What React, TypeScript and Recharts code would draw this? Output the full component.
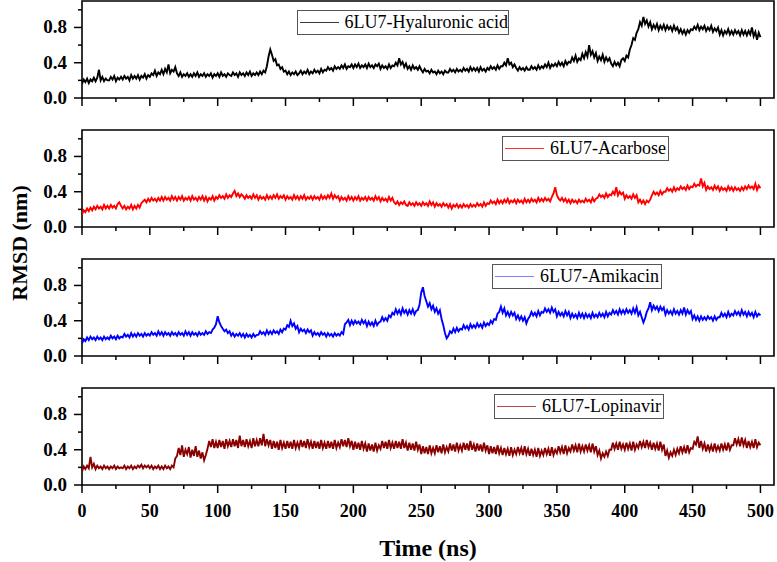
import React from 'react';
import { LineChart, Line, XAxis, YAxis, ReferenceArea, Legend } from 'recharts';

// Sampling interval of the traces (ns); each row below covers 10 ns
const timeStepNs = 1.25;

// RMSD (nm), every 1.25 ns, 0..500 ns
const hyaluronicAcid = [
  0.16, 0.21, 0.18, 0.22, 0.17, 0.21, 0.19, 0.23,
  0.19, 0.23, 0.32, 0.20, 0.24, 0.19, 0.22, 0.20,
  0.20, 0.24, 0.21, 0.25, 0.19, 0.23, 0.21, 0.24,
  0.21, 0.25, 0.22, 0.24, 0.20, 0.26, 0.22, 0.25,
  0.22, 0.26, 0.21, 0.25, 0.23, 0.27, 0.22, 0.26,
  0.24, 0.28, 0.26, 0.31, 0.25, 0.29, 0.27, 0.32,
  0.27, 0.33, 0.29, 0.38, 0.28, 0.32, 0.30, 0.35,
  0.28, 0.25, 0.29, 0.24, 0.27, 0.25, 0.28, 0.24,
  0.27, 0.24, 0.28, 0.25, 0.29, 0.24, 0.27, 0.25,
  0.28, 0.24, 0.27, 0.25, 0.28, 0.23, 0.27, 0.25,
  0.28, 0.24, 0.29, 0.25, 0.27, 0.24, 0.28, 0.26,
  0.25, 0.29, 0.26, 0.28, 0.24, 0.29, 0.26, 0.28,
  0.25, 0.29, 0.26, 0.30, 0.25, 0.28, 0.26, 0.29,
  0.26, 0.30, 0.27, 0.31, 0.29, 0.36, 0.47, 0.55,
  0.49, 0.42, 0.44, 0.37, 0.38, 0.33, 0.35, 0.30,
  0.31, 0.27, 0.30, 0.26, 0.29, 0.27, 0.30, 0.26,
  0.28, 0.31, 0.27, 0.30, 0.28, 0.32, 0.27, 0.30,
  0.28, 0.32, 0.29, 0.31, 0.28, 0.33, 0.29, 0.32,
  0.31, 0.35, 0.32, 0.34, 0.31, 0.36, 0.33, 0.35,
  0.33, 0.37, 0.34, 0.38, 0.33, 0.36, 0.35, 0.38,
  0.34, 0.38, 0.35, 0.39, 0.34, 0.37, 0.35, 0.38,
  0.34, 0.39, 0.35, 0.37, 0.34, 0.38, 0.36, 0.39,
  0.33, 0.37, 0.34, 0.36, 0.33, 0.38, 0.34, 0.37,
  0.36, 0.40, 0.37, 0.45, 0.38, 0.41, 0.35, 0.39,
  0.33, 0.36, 0.32, 0.37, 0.33, 0.35, 0.32, 0.36,
  0.32, 0.29, 0.33, 0.30, 0.31, 0.28, 0.32, 0.29,
  0.30, 0.27, 0.31, 0.28, 0.30, 0.27, 0.31, 0.29,
  0.29, 0.33, 0.30, 0.32, 0.29, 0.33, 0.30, 0.32,
  0.30, 0.34, 0.31, 0.33, 0.30, 0.35, 0.31, 0.34,
  0.31, 0.34, 0.30, 0.35, 0.31, 0.33, 0.30, 0.34,
  0.32, 0.36, 0.33, 0.35, 0.32, 0.37, 0.33, 0.36,
  0.36, 0.40, 0.37, 0.45, 0.38, 0.40, 0.35, 0.38,
  0.34, 0.31, 0.35, 0.32, 0.34, 0.31, 0.35, 0.32,
  0.32, 0.36, 0.33, 0.35, 0.32, 0.37, 0.33, 0.36,
  0.34, 0.38, 0.35, 0.40, 0.34, 0.38, 0.36, 0.39,
  0.36, 0.41, 0.37, 0.40, 0.36, 0.42, 0.38, 0.41,
  0.40, 0.46, 0.42, 0.48, 0.41, 0.45, 0.43, 0.50,
  0.45, 0.52, 0.47, 0.60, 0.49, 0.53, 0.46, 0.51,
  0.42, 0.47, 0.43, 0.49, 0.41, 0.46, 0.42, 0.45,
  0.39, 0.36, 0.41, 0.37, 0.40, 0.36, 0.43, 0.45,
  0.42, 0.48, 0.46, 0.55, 0.60, 0.68, 0.66, 0.74,
  0.78, 0.86, 0.82, 0.92, 0.84, 0.88, 0.81, 0.86,
  0.78, 0.83, 0.79, 0.84, 0.77, 0.82, 0.78, 0.83,
  0.77, 0.82, 0.78, 0.81, 0.76, 0.82, 0.77, 0.80,
  0.74, 0.78, 0.73, 0.77, 0.72, 0.77, 0.74, 0.78,
  0.77, 0.81, 0.78, 0.83, 0.77, 0.81, 0.78, 0.82,
  0.76, 0.80, 0.77, 0.82, 0.75, 0.79, 0.76, 0.80,
  0.72, 0.77, 0.71, 0.76, 0.73, 0.78, 0.72, 0.76,
  0.72, 0.77, 0.73, 0.76, 0.71, 0.77, 0.72, 0.76,
  0.71, 0.76, 0.72, 0.80, 0.70, 0.75, 0.66, 0.74,
  0.69,
];

const acarbose = [
  0.14, 0.19, 0.17, 0.21, 0.18, 0.22, 0.19, 0.23,
  0.20, 0.24, 0.21, 0.23, 0.20, 0.25, 0.21, 0.24,
  0.21, 0.25, 0.22, 0.24, 0.21, 0.26, 0.28, 0.24,
  0.21, 0.24, 0.20, 0.23, 0.21, 0.25, 0.20, 0.24,
  0.21, 0.25, 0.22, 0.27, 0.29, 0.31, 0.28, 0.32,
  0.29, 0.33, 0.30, 0.32, 0.29, 0.33, 0.30, 0.34,
  0.30, 0.34, 0.31, 0.33, 0.30, 0.35, 0.31, 0.34,
  0.30, 0.34, 0.31, 0.35, 0.30, 0.33, 0.31, 0.34,
  0.30, 0.35, 0.31, 0.33, 0.30, 0.34, 0.31, 0.35,
  0.30, 0.34, 0.29, 0.33, 0.31, 0.35, 0.30, 0.34,
  0.32, 0.36, 0.33, 0.35, 0.32, 0.37, 0.33, 0.36,
  0.34, 0.38, 0.41, 0.35, 0.38, 0.34, 0.37, 0.35,
  0.32, 0.36, 0.33, 0.35, 0.32, 0.37, 0.33, 0.36,
  0.31, 0.35, 0.32, 0.34, 0.31, 0.36, 0.32, 0.35,
  0.32, 0.36, 0.33, 0.37, 0.32, 0.35, 0.33, 0.36,
  0.31, 0.35, 0.32, 0.34, 0.31, 0.36, 0.32, 0.35,
  0.31, 0.35, 0.32, 0.36, 0.31, 0.34, 0.32, 0.35,
  0.31, 0.35, 0.32, 0.34, 0.31, 0.36, 0.32, 0.35,
  0.32, 0.36, 0.33, 0.38, 0.32, 0.36, 0.33, 0.35,
  0.30, 0.34, 0.31, 0.33, 0.30, 0.35, 0.31, 0.34,
  0.30, 0.34, 0.31, 0.35, 0.30, 0.33, 0.31, 0.34,
  0.30, 0.34, 0.31, 0.33, 0.30, 0.35, 0.31, 0.34,
  0.29, 0.33, 0.30, 0.32, 0.29, 0.34, 0.30, 0.33,
  0.28, 0.26, 0.29, 0.25, 0.28, 0.26, 0.29, 0.25,
  0.24, 0.28, 0.25, 0.27, 0.24, 0.28, 0.25, 0.27,
  0.24, 0.28, 0.25, 0.27, 0.24, 0.29, 0.25, 0.28,
  0.23, 0.27, 0.24, 0.26, 0.23, 0.27, 0.24, 0.26,
  0.22, 0.26, 0.21, 0.25, 0.23, 0.26, 0.22, 0.25,
  0.22, 0.26, 0.23, 0.25, 0.22, 0.26, 0.23, 0.25,
  0.23, 0.27, 0.24, 0.26, 0.23, 0.28, 0.24, 0.27,
  0.26, 0.30, 0.27, 0.29, 0.26, 0.31, 0.27, 0.30,
  0.27, 0.31, 0.28, 0.32, 0.27, 0.30, 0.28, 0.31,
  0.27, 0.31, 0.28, 0.30, 0.27, 0.32, 0.28, 0.31,
  0.28, 0.32, 0.29, 0.31, 0.28, 0.33, 0.29, 0.32,
  0.29, 0.33, 0.30, 0.32, 0.29, 0.34, 0.38, 0.45,
  0.36, 0.32, 0.30, 0.33, 0.29, 0.32, 0.28, 0.31,
  0.27, 0.31, 0.28, 0.30, 0.27, 0.31, 0.28, 0.30,
  0.28, 0.32, 0.29, 0.31, 0.28, 0.33, 0.29, 0.32,
  0.33, 0.37, 0.34, 0.36, 0.33, 0.38, 0.34, 0.37,
  0.36, 0.40, 0.37, 0.45, 0.36, 0.40, 0.37, 0.39,
  0.32, 0.36, 0.33, 0.35, 0.32, 0.37, 0.33, 0.36,
  0.28, 0.31, 0.27, 0.30, 0.26, 0.30, 0.28, 0.31,
  0.36, 0.40, 0.37, 0.39, 0.36, 0.41, 0.37, 0.40,
  0.40, 0.44, 0.41, 0.43, 0.40, 0.45, 0.41, 0.44,
  0.42, 0.46, 0.43, 0.45, 0.42, 0.47, 0.43, 0.46,
  0.45, 0.49, 0.46, 0.48, 0.47, 0.55, 0.46, 0.50,
  0.42, 0.46, 0.43, 0.45, 0.42, 0.47, 0.43, 0.46,
  0.41, 0.45, 0.42, 0.44, 0.41, 0.46, 0.42, 0.45,
  0.41, 0.45, 0.42, 0.44, 0.41, 0.45, 0.42, 0.46,
  0.43, 0.47, 0.44, 0.46, 0.43, 0.49, 0.42, 0.47,
  0.44,
];

const amikacin = [
  0.14, 0.19, 0.17, 0.21, 0.18, 0.22, 0.19, 0.21,
  0.18, 0.22, 0.19, 0.21, 0.18, 0.22, 0.19, 0.21,
  0.19, 0.23, 0.20, 0.22, 0.19, 0.23, 0.20, 0.22,
  0.21, 0.25, 0.22, 0.24, 0.21, 0.26, 0.22, 0.25,
  0.22, 0.26, 0.23, 0.25, 0.22, 0.26, 0.23, 0.25,
  0.23, 0.27, 0.24, 0.26, 0.23, 0.28, 0.24, 0.27,
  0.23, 0.27, 0.24, 0.26, 0.23, 0.27, 0.24, 0.26,
  0.23, 0.27, 0.24, 0.26, 0.23, 0.28, 0.24, 0.27,
  0.23, 0.27, 0.24, 0.26, 0.23, 0.27, 0.24, 0.26,
  0.24, 0.28, 0.25, 0.27, 0.26, 0.30, 0.32, 0.36,
  0.45, 0.38, 0.34, 0.31, 0.28, 0.30, 0.26, 0.28,
  0.23, 0.26, 0.22, 0.25, 0.23, 0.26, 0.22, 0.25,
  0.21, 0.25, 0.22, 0.24, 0.21, 0.25, 0.22, 0.24,
  0.24, 0.28, 0.25, 0.27, 0.24, 0.29, 0.25, 0.28,
  0.25, 0.29, 0.26, 0.28, 0.25, 0.30, 0.27, 0.31,
  0.30, 0.35, 0.33, 0.40, 0.34, 0.37, 0.31, 0.34,
  0.27, 0.31, 0.28, 0.30, 0.26, 0.30, 0.27, 0.29,
  0.23, 0.27, 0.24, 0.26, 0.23, 0.27, 0.24, 0.26,
  0.22, 0.26, 0.23, 0.25, 0.22, 0.26, 0.23, 0.25,
  0.23, 0.27, 0.25, 0.36, 0.38, 0.41, 0.35, 0.40,
  0.36, 0.40, 0.37, 0.39, 0.36, 0.41, 0.37, 0.40,
  0.34, 0.39, 0.35, 0.38, 0.34, 0.40, 0.35, 0.38,
  0.39, 0.44, 0.40, 0.43, 0.40, 0.46, 0.44, 0.49,
  0.47, 0.53, 0.48, 0.52, 0.47, 0.54, 0.49, 0.52,
  0.47, 0.52, 0.48, 0.53, 0.47, 0.51, 0.52, 0.58,
  0.72, 0.78, 0.68, 0.62, 0.56, 0.60, 0.53, 0.57,
  0.50, 0.54, 0.48, 0.52, 0.42, 0.35, 0.26, 0.20,
  0.23, 0.28, 0.26, 0.31, 0.27, 0.32, 0.28, 0.31,
  0.30, 0.35, 0.31, 0.34, 0.30, 0.36, 0.32, 0.35,
  0.32, 0.37, 0.33, 0.36, 0.32, 0.38, 0.34, 0.37,
  0.35, 0.40, 0.37, 0.42, 0.41, 0.48, 0.50, 0.56,
  0.49, 0.54, 0.46, 0.50, 0.45, 0.50, 0.46, 0.49,
  0.42, 0.46, 0.41, 0.45, 0.40, 0.44, 0.37, 0.42,
  0.45, 0.50, 0.46, 0.49, 0.45, 0.51, 0.46, 0.50,
  0.49, 0.54, 0.50, 0.53, 0.49, 0.55, 0.50, 0.53,
  0.45, 0.50, 0.46, 0.49, 0.45, 0.51, 0.46, 0.50,
  0.43, 0.48, 0.44, 0.47, 0.43, 0.49, 0.44, 0.48,
  0.43, 0.48, 0.44, 0.47, 0.43, 0.49, 0.44, 0.47,
  0.44, 0.49, 0.45, 0.48, 0.44, 0.50, 0.45, 0.49,
  0.47, 0.52, 0.48, 0.51, 0.47, 0.53, 0.48, 0.52,
  0.48, 0.53, 0.49, 0.52, 0.48, 0.54, 0.49, 0.55,
  0.46, 0.50, 0.44, 0.38, 0.43, 0.50, 0.54, 0.61,
  0.52, 0.57, 0.53, 0.56, 0.51, 0.56, 0.52, 0.55,
  0.47, 0.52, 0.48, 0.51, 0.47, 0.53, 0.48, 0.51,
  0.47, 0.52, 0.48, 0.55, 0.47, 0.52, 0.48, 0.51,
  0.42, 0.46, 0.41, 0.45, 0.40, 0.45, 0.41, 0.44,
  0.41, 0.45, 0.42, 0.44, 0.40, 0.45, 0.41, 0.44,
  0.44, 0.49, 0.45, 0.48, 0.44, 0.50, 0.45, 0.48,
  0.46, 0.51, 0.47, 0.50, 0.46, 0.52, 0.47, 0.50,
  0.45, 0.50, 0.46, 0.49, 0.44, 0.50, 0.45, 0.48,
  0.46,
];

const lopinavir = [
  0.15, 0.21, 0.18, 0.22, 0.19, 0.32, 0.20, 0.24,
  0.18, 0.22, 0.19, 0.21, 0.18, 0.22, 0.19, 0.21,
  0.18, 0.21, 0.19, 0.22, 0.18, 0.21, 0.19, 0.20,
  0.19, 0.22, 0.18, 0.21, 0.19, 0.22, 0.18, 0.21,
  0.19, 0.22, 0.20, 0.23, 0.19, 0.22, 0.20, 0.22,
  0.19, 0.22, 0.18, 0.21, 0.19, 0.22, 0.18, 0.21,
  0.18, 0.22, 0.19, 0.21, 0.18, 0.22, 0.20, 0.30,
  0.33, 0.42, 0.34, 0.45, 0.32, 0.40, 0.35, 0.43,
  0.31, 0.40, 0.33, 0.44, 0.32, 0.39, 0.30, 0.37,
  0.28, 0.34, 0.41, 0.50, 0.43, 0.52, 0.42, 0.49,
  0.42, 0.51, 0.43, 0.50, 0.41, 0.52, 0.44, 0.50,
  0.43, 0.52, 0.44, 0.51, 0.42, 0.56, 0.44, 0.51,
  0.43, 0.52, 0.44, 0.50, 0.42, 0.53, 0.44, 0.51,
  0.44, 0.53, 0.45, 0.58, 0.44, 0.52, 0.45, 0.51,
  0.41, 0.50, 0.42, 0.49, 0.40, 0.51, 0.42, 0.48,
  0.41, 0.50, 0.42, 0.49, 0.41, 0.51, 0.42, 0.48,
  0.42, 0.51, 0.43, 0.50, 0.42, 0.52, 0.43, 0.49,
  0.41, 0.50, 0.42, 0.49, 0.41, 0.51, 0.42, 0.48,
  0.41, 0.50, 0.42, 0.49, 0.41, 0.51, 0.42, 0.48,
  0.43, 0.52, 0.44, 0.51, 0.43, 0.53, 0.44, 0.50,
  0.40, 0.49, 0.41, 0.48, 0.40, 0.50, 0.41, 0.47,
  0.38, 0.47, 0.39, 0.46, 0.38, 0.48, 0.39, 0.45,
  0.41, 0.50, 0.42, 0.49, 0.41, 0.51, 0.42, 0.48,
  0.41, 0.50, 0.42, 0.49, 0.41, 0.52, 0.42, 0.48,
  0.39, 0.48, 0.40, 0.47, 0.39, 0.49, 0.40, 0.46,
  0.35, 0.44, 0.36, 0.43, 0.35, 0.45, 0.36, 0.42,
  0.36, 0.45, 0.37, 0.44, 0.36, 0.46, 0.37, 0.43,
  0.38, 0.47, 0.39, 0.46, 0.38, 0.48, 0.39, 0.45,
  0.39, 0.48, 0.40, 0.47, 0.39, 0.50, 0.40, 0.46,
  0.38, 0.47, 0.39, 0.46, 0.38, 0.48, 0.39, 0.45,
  0.35, 0.44, 0.36, 0.43, 0.35, 0.45, 0.36, 0.42,
  0.34, 0.42, 0.35, 0.41, 0.33, 0.43, 0.34, 0.40,
  0.35, 0.43, 0.36, 0.42, 0.34, 0.44, 0.35, 0.41,
  0.33, 0.41, 0.34, 0.40, 0.32, 0.42, 0.33, 0.39,
  0.34, 0.42, 0.35, 0.41, 0.33, 0.43, 0.34, 0.40,
  0.36, 0.44, 0.37, 0.43, 0.35, 0.45, 0.36, 0.42,
  0.38, 0.46, 0.39, 0.45, 0.37, 0.47, 0.38, 0.44,
  0.38, 0.46, 0.39, 0.45, 0.37, 0.47, 0.38, 0.44,
  0.34, 0.39, 0.30, 0.36, 0.32, 0.38, 0.33, 0.40,
  0.40, 0.48, 0.41, 0.47, 0.40, 0.49, 0.41, 0.46,
  0.40, 0.48, 0.41, 0.47, 0.39, 0.49, 0.40, 0.46,
  0.42, 0.50, 0.43, 0.49, 0.42, 0.51, 0.43, 0.48,
  0.40, 0.48, 0.41, 0.47, 0.39, 0.49, 0.40, 0.46,
  0.33, 0.39, 0.31, 0.37, 0.33, 0.40, 0.34, 0.41,
  0.36, 0.44, 0.37, 0.43, 0.36, 0.45, 0.37, 0.42,
  0.41, 0.49, 0.46, 0.55, 0.42, 0.50, 0.41, 0.47,
  0.38, 0.46, 0.39, 0.45, 0.38, 0.47, 0.39, 0.44,
  0.39, 0.47, 0.40, 0.46, 0.39, 0.48, 0.40, 0.45,
  0.45, 0.53, 0.46, 0.52, 0.44, 0.54, 0.45, 0.51,
  0.42, 0.50, 0.43, 0.49, 0.42, 0.52, 0.43, 0.48,
  0.45,
];

const seriesNames = ['6LU7-Hyaluronic acid', '6LU7-Acarbose', '6LU7-Amikacin', '6LU7-Lopinavir'];
const seriesColors = ['#000000', '#ff0000', '#0000ff', '#8b0000'];
const legendSampleColors = ['#3a3a3a', '#ff3030', '#7f7fff', '#b24a4a'];

const xTicks = [0, 25, 50, 75, 100, 125, 150, 175, 200, 225, 250, 275, 300, 325, 350, 375, 400, 425, 450, 475, 500];
const xLabelTicks = [0, 50, 100, 150, 200, 250, 300, 350, 400, 450, 500];
const yTicks = [0, 0.2, 0.4, 0.6, 0.8, 1.0];
const yLabelTicks = [0, 0.4, 0.8];

const xTitle = 'Time (ns)';
const yTitle = 'RMSD (nm)';

const FONT = "'Liberation Serif', 'Times New Roman', serif";
const X_DOMAIN: [number, number] = [0, 510];
const Y_DOMAIN: [number, number] = [0, 1.1];

function XTick(props: any) {
  const { x, y, payload, showLabels } = props;
  const v = payload.value;
  const major = xLabelTicks.includes(v);
  return (
    <g>
      <line x1={x} x2={x} y1={y} y2={y + (major ? 8 : 4)} stroke="#000" strokeWidth={1.5} />
      {showLabels && major ? (
        <text x={x} y={y + 32} textAnchor="middle" fontFamily={FONT} fontWeight="bold" fontSize={18} fill="#000">
          {v}
        </text>
      ) : null}
    </g>
  );
}

function YTick(props: any) {
  const { x, y, payload } = props;
  const v = payload.value;
  const major = yLabelTicks.some((t) => Math.abs(t - v) < 1e-9);
  return (
    <g>
      <line x1={x - (major ? 8 : 4)} x2={x} y1={y} y2={y} stroke="#000" strokeWidth={1.5} />
      {major ? (
        <text x={x - 15} y={y + 6} textAnchor="end" fontFamily={FONT} fontWeight="bold" fontSize={19} fill="#000">
          {v.toFixed(1)}
        </text>
      ) : null}
    </g>
  );
}

function LegendBox({ name, sampleColor, width, height }: any) {
  return (
    <div
      style={{
        boxSizing: 'border-box',
        width,
        height,
        border: '1px solid #555',
        background: '#fff',
        display: 'flex',
        alignItems: 'center',
        paddingLeft: 2,
        whiteSpace: 'nowrap',
        fontFamily: FONT,
        fontSize: 18,
        color: '#000',
      }}
    >
      <div style={{ width: 39, height: 0, borderTop: `1px solid ${sampleColor}`, marginRight: 6 }} />
      <span>{name}</span>
    </div>
  );
}

type PanelProps = {
  index: number;
  values: number[];
  top: number;
  height: number;
  axisHeight: number;
  showXLabels: boolean;
  legendLeft: number;
  legendTop: number;
  legendWidth: number;
  legendHeight: number;
};

function Panel(p: PanelProps) {
  const data = p.values.map((v, i) => ({ t: i * timeStepNs, v }));
  return (
    <div style={{ position: 'absolute', left: 0, top: p.top, width: 777, height: p.height }}>
      <LineChart width={777} height={p.height} data={data} margin={{ top: 1, right: 3, bottom: 0, left: 0 }}>
        <XAxis
          dataKey="t"
          type="number"
          domain={X_DOMAIN}
          ticks={xTicks}
          interval={0}
          allowDataOverflow
          axisLine={false}
          tickLine={false}
          tickSize={0}
          tickMargin={0}
          height={p.axisHeight}
          tick={(tp: any) => <XTick {...tp} showLabels={p.showXLabels} />}
          label={
            p.showXLabels
              ? (lp: any) => {
                  const vb = lp.viewBox || {};
                  return (
                    <text
                      x={vb.x + vb.width / 2}
                      y={vb.y + 71}
                      textAnchor="middle"
                      fontFamily={FONT}
                      fontWeight="bold"
                      fontSize={24}
                      fill="#000"
                    >
                      {xTitle}
                    </text>
                  );
                }
              : undefined
          }
        />
        <YAxis
          type="number"
          domain={Y_DOMAIN}
          ticks={yTicks}
          interval={0}
          allowDataOverflow
          axisLine={false}
          tickLine={false}
          tickSize={0}
          tickMargin={0}
          width={82}
          tick={(tp: any) => <YTick {...tp} />}
        />
        <ReferenceArea
          x1={X_DOMAIN[0]}
          x2={X_DOMAIN[1]}
          y1={Y_DOMAIN[0]}
          y2={Y_DOMAIN[1]}
          fill="none"
          stroke="#000"
          strokeWidth={1.6}
          ifOverflow="visible"
        />
        <Line
          dataKey="v"
          name={seriesNames[p.index]}
          stroke={seriesColors[p.index]}
          strokeWidth={1.9}
          dot={false}
          isAnimationActive={false}
        />
        <Legend
          verticalAlign="middle"
          align="center"
          wrapperStyle={{ left: p.legendLeft, top: p.legendTop, width: p.legendWidth, height: p.legendHeight }}
          content={() => (
            <LegendBox
              name={seriesNames[p.index]}
              sampleColor={legendSampleColors[p.index]}
              width={p.legendWidth}
              height={p.legendHeight}
            />
          )}
        />
      </LineChart>
    </div>
  );
}

export default function App() {
  return (
    <div style={{ position: 'absolute', left: 0, top: 0, width: 777, height: 562, background: '#fff', overflow: 'hidden' }}>
      <Panel index={0} values={hyaluronicAcid} top={0} height={129} axisHeight={31} showXLabels={false}
        legendLeft={297} legendTop={10} legendWidth={212} legendHeight={25} />
      <Panel index={1} values={acarbose} top={129} height={129} axisHeight={31} showXLabels={false}
        legendLeft={502} legendTop={7} legendWidth={167} legendHeight={25} />
      <Panel index={2} values={amikacin} top={258} height={129} axisHeight={31} showXLabels={false}
        legendLeft={492} legendTop={6} legendWidth={170} legendHeight={25} />
      <Panel index={3} values={lopinavir} top={387} height={175} axisHeight={77} showXLabels={true}
        legendLeft={494} legendTop={7} legendWidth={170} legendHeight={25} />
      <svg width={40} height={562} style={{ position: 'absolute', left: 0, top: 0 }}>
        <text
          transform="translate(27,243) rotate(-90)"
          textAnchor="middle"
          fontFamily={FONT}
          fontWeight="bold"
          fontSize={22}
          fill="#000"
        >
          {yTitle}
        </text>
      </svg>
    </div>
  );
}
